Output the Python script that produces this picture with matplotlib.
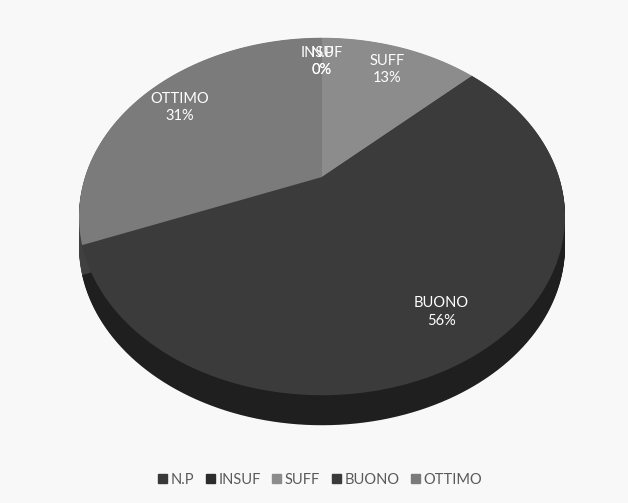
import numpy as np
import matplotlib.pyplot as plt
from matplotlib.colors import to_rgb
from matplotlib.patches import Polygon
from matplotlib.transforms import Affine2D

plt.rcParams['font.family'] = ['Lato', 'DejaVu Sans']

categories = ['N.P', 'INSUF', 'SUFF', 'BUONO', 'OTTIMO']
values = [0, 0, 13, 56, 31]
colors = ['#383838', '#2c2c2c', '#8c8c8c', '#3b3b3b', '#7b7b7b']

total = sum(values)
bg = '#f8f8f8'

# tilted view of the pie, in pixel units of the axes
cx, cy = 322, 177      # apex on screen
ax_r, ay_r = 237, 170  # radii
persp = 0.221          # far side gets squeezed
depth = 30


def project(x, y):
    d = 1 + persp * y
    return cx + ax_r * x / d, cy - ay_r * y / d


fig = plt.figure(figsize=(6.28, 5.03), dpi=100, facecolor=bg)
ax = fig.add_axes([0, 0, 1, 1])
ax.set_facecolor(bg)

wedges, _ = ax.pie(values, colors=colors, startangle=90, counterclock=False,
                   wedgeprops=dict(linewidth=0))

side = [tuple(c * 0.52 for c in to_rgb(col)) for col in colors]
for w, col, scol in zip(wedges, colors, side):
    w.set_visible(False)
    # flatten the wedge outline finely (scale up so curves get many points)
    polys = w.get_path().to_polygons(Affine2D().scale(1000))
    if not polys:
        continue
    pts = polys[0] / 1000
    X, Y = project(pts[:, 0], pts[:, 1])
    verts = np.column_stack([X, Y])
    for dy in np.linspace(depth, 0.5, 30):
        ax.add_patch(Polygon(verts + [0, dy], facecolor=scol,
                             linewidth=0, zorder=1))
    ax.add_patch(Polygon(verts, facecolor=col, linewidth=0, zorder=2))

for w, name, v in zip(wedges, categories, values):
    ang = np.deg2rad((w.theta1 + w.theta2) / 2)
    tx, ty = project(0.8 * np.cos(ang), 0.8 * np.sin(ang))
    ax.text(tx, ty, f'{name}\n{round(v / total * 100)}%',
            ha='center', va='center', color='white', fontsize=10.5,
            linespacing=1.3, zorder=5)

ax.set_aspect('auto')
ax.set_xlim(0, 628)
ax.set_ylim(503, 0)
ax.axis('off')

handles = [plt.Rectangle((0, 0), 1, 1, color=c) for c in colors]
fig.legend(handles, categories, loc='center', bbox_to_anchor=(0.51, 0.046),
           ncol=5, frameon=False, handlelength=0.6, handleheight=0.6,
           handletextpad=0.25, columnspacing=0.8, fontsize=10.5,
           labelcolor='#595959')

fig.savefig('out.png', dpi=100, facecolor=bg)
